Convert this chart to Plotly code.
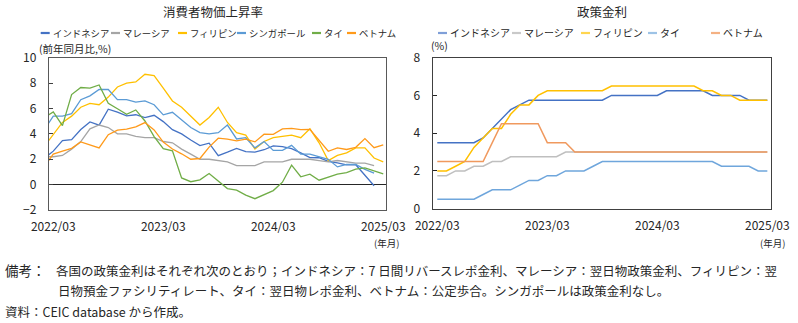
import plotly.graph_objects as go

# ---------------- data ----------------
# CPI months: 2022/02 .. 2025/03 (the 2022/02 point is clipped by the axis)
cpi_months = [f"{y}/{m:02d}" for y in range(2022, 2026) for m in range(1, 13)]
cpi_months = cpi_months[cpi_months.index("2022/02"):cpi_months.index("2025/03") + 1]

cpi_indonesia = [2.06, 2.64, 3.47, 3.55, 4.35, 4.94, 4.69, 5.95, 5.71, 5.42, 5.51,
                 5.28, 5.47, 4.97, 4.33, 4.00, 3.52, 3.08, 3.27, 2.28, 2.56, 2.86, 2.61,
                 2.57, 2.75, 3.05, 3.00, 2.84, 2.51, 2.13, 2.12, 1.84, 1.71, 1.55, 1.57,
                 0.76, -0.09, None]
cpi_malaysia = [2.2, 2.2, 2.3, 2.8, 3.4, 4.4, 4.7, 4.5, 4.0, 4.0, 3.8,
                3.7, 3.7, 3.4, 3.3, 2.8, 2.4, 2.0, 2.0, 1.9, 1.8, 1.5, 1.5,
                1.5, 1.8, 1.8, 1.8, 2.0, 2.0, 2.0, 1.9, 1.8, 1.9, 1.8, 1.7,
                1.7, 1.5, None]
cpi_philippines = [3.0, 4.0, 4.9, 5.4, 6.1, 6.4, 6.3, 6.9, 7.7, 8.0, 8.1,
                   8.7, 8.6, 7.6, 6.6, 6.1, 5.4, 4.7, 5.3, 6.1, 4.9, 4.1, 3.9,
                   2.8, 3.4, 3.7, 3.8, 3.9, 3.7, 4.4, 3.3, 1.9, 2.3, 2.5, 2.9,
                   2.9, 2.1, 1.8]
cpi_singapore = [4.3, 5.4, 5.4, 5.6, 6.7, 7.0, 7.5, 7.5, 6.7, 6.7, 6.5,
                 6.6, 6.3, 5.5, 5.7, 5.1, 4.5, 4.1, 4.0, 4.1, 4.7, 3.6, 3.7,
                 2.9, 3.4, 2.7, 2.7, 3.1, 2.4, 2.4, 2.2, 2.0, 1.4, 1.6, 1.6,
                 1.2, 0.9, None]
cpi_thailand = [5.28, 5.73, 4.65, 7.10, 7.66, 7.61, 7.86, 6.41, 5.98, 5.55, 5.89,
                5.02, 3.79, 2.83, 2.67, 0.53, 0.23, 0.38, 0.88, 0.30, -0.31, -0.44, -0.83,
                -1.11, -0.77, -0.47, 0.19, 1.54, 0.62, 0.83, 0.35, 0.61, 0.83, 0.95, 1.23,
                1.32, 1.08, 0.84]
cpi_vietnam = [1.42, 2.41, 2.64, 2.86, 3.37, 3.14, 2.89, 3.94, 4.30, 4.37, 4.55,
               4.89, 4.31, 3.35, 2.81, 2.43, 2.00, 2.06, 2.96, 3.66, 3.59, 3.45, 3.58,
               3.37, 3.98, 3.97, 4.40, 4.44, 4.34, 4.36, 3.45, 2.63, 2.89, 2.77, 2.94,
               3.63, 2.91, 3.13]

# Policy rate months: 2022/03 .. 2025/03
rate_months = cpi_months[1:]
rate_indonesia = [3.5] * 5 + [3.75, 4.25, 4.75, 5.25, 5.5] + [5.75] * 9 + [6.0] * 6 + [6.25] * 5 + [6.0] * 4 + [5.75] * 3
rate_malaysia = [1.75] * 2 + [2.0] * 2 + [2.25] * 2 + [2.5] * 2 + [2.75] * 6 + [3.0] * 23
rate_philippines = [2.0, 2.0, 2.25, 2.5, 3.25, 3.75, 4.25, 4.25, 5.0, 5.5, 5.5, 6.0] + [6.25] * 7 + [6.5] * 10 + [6.25] * 2 + [6.0] * 2 + [5.75] * 4
rate_thailand = [0.5] * 5 + [0.75] + [1.0] * 3 + [1.25] + [1.5] * 2 + [1.75] * 2 + [2.0] * 3 + [2.25] + [2.5] * 13 + [2.25] * 4 + [2.0] * 2
rate_vietnam = [2.5] * 6 + [3.5] + [4.5] * 5 + [3.5] * 3 + [3.0] * 22

x_tick_labels = ["2022/03", "2023/03", "2024/03", "2025/03"]

# ---------------- helpers ----------------
W, H = 798, 323
FONT = "Noto Sans CJK JP"
TXT = "#262626"


def px(p):
    return p / W


def py(p):
    return 1 - p / H


def month_pos(labels):
    # category centre: month index relative to 2022/03, plus half a month
    base = cpi_months.index("2022/03")
    return [cpi_months.index(m) - base + 0.5 for m in labels]


cpi_x = month_pos(cpi_months)
rate_x = month_pos(rate_months)
label_pos = month_pos(x_tick_labels)
boundary_ticks = [p - 0.5 for p in label_pos[1:]]

fig = go.Figure()

cpi_series = [
    ("インドネシア", cpi_indonesia, "#4472C4"),
    ("マレーシア", cpi_malaysia, "#A5A5A5"),
    ("フィリピン", cpi_philippines, "#FFC000"),
    ("シンガポール", cpi_singapore, "#5B9BD5"),
    ("タイ", cpi_thailand, "#70AD47"),
    ("ベトナム", cpi_vietnam, "#FF9A1A"),
]
for name, vals, col in cpi_series:
    fig.add_trace(go.Scatter(x=cpi_x, y=vals, mode="lines", name=name,
                             line=dict(color=col, width=1.3), xaxis="x", yaxis="y",
                             showlegend=False, cliponaxis=True))

rate_series = [
    ("インドネシア", rate_indonesia, "#4472C4", "#7F9FD8"),
    ("マレーシア", rate_malaysia, "#BFBFBF", "#C9C9C9"),
    ("フィリピン", rate_philippines, "#FFC000", "#FFD54F"),
    ("タイ", rate_thailand, "#6FA6DC", "#9DC3E6"),
    ("ベトナム", rate_vietnam, "#F0995E", "#F4B183"),
]
for name, vals, col, _ in rate_series:
    fig.add_trace(go.Scatter(x=rate_x, y=vals, mode="lines", name=name,
                             line=dict(color=col, width=1.5), xaxis="x2", yaxis="y2",
                             showlegend=False))

L_DOM_X = [px(48.7), px(386)]
L_DOM_Y = [py(210), py(57.8)]
R_DOM_X = [px(432.7), px(771)]
R_DOM_Y = [py(208.7), py(57.7)]
L_RANGE = [0, 36.8]
R_RANGE = [0, 36.9]

axis_common = dict(showgrid=False, showline=True, mirror=True, linecolor="#595959",
                   linewidth=1, automargin=False,
                   tickfont=dict(size=12, color=TXT, family=FONT))
right_axis = {**axis_common, "linecolor": "#404040", "linewidth": 1.3}

fig.update_layout(
    width=W, height=H,
    margin=dict(l=0, r=0, t=0, b=0, pad=0),
    paper_bgcolor="white", plot_bgcolor="white",
    font=dict(family=FONT, color=TXT),
    xaxis=dict(domain=L_DOM_X, range=L_RANGE, anchor="y", tickvals=label_pos,
               ticktext=x_tick_labels, ticks="", zeroline=False,
               ticklabelstandoff=6, **axis_common),
    yaxis=dict(domain=L_DOM_Y, range=[-2, 10], anchor="x", dtick=2, tick0=0,
               ticks="inside", ticklen=4, tickcolor="#404040",
               zeroline=True, zerolinecolor="#262626", zerolinewidth=1.3,
               ticklabelstandoff=9, **axis_common),
    xaxis3=dict(domain=L_DOM_X, range=L_RANGE, overlaying="x", anchor="free",
                position=L_DOM_Y[0] + (L_DOM_Y[1] - L_DOM_Y[0]) * (2 / 12),
                tickvals=boundary_ticks, ticks="inside", ticklen=4, tickcolor="#7F7F7F",
                tickwidth=1.5, showticklabels=False, showline=False, showgrid=False,
                zeroline=False, automargin=False),
    xaxis2=dict(domain=R_DOM_X, range=R_RANGE, anchor="y2", tickvals=label_pos,
                ticktext=x_tick_labels, ticks="", zeroline=False,
                ticklabelstandoff=6, **right_axis),
    yaxis2=dict(domain=R_DOM_Y, range=[0, 8], anchor="x2", dtick=2, tick0=0,
                ticks="inside", ticklen=4, tickcolor="#262626", zeroline=False,
                ticklabelstandoff=9, **right_axis),
    xaxis4=dict(domain=R_DOM_X, range=R_RANGE, overlaying="x2", anchor="y2",
                tickvals=boundary_ticks, ticks="inside", ticklen=4, tickcolor="#404040",
                tickwidth=1.3, showticklabels=False, showline=False, showgrid=False,
                zeroline=False, automargin=False),
)

ann = []
shapes = []


def text(x, y, s, size, anchor="center", color=TXT):
    ann.append(dict(x=px(x), y=py(y), xref="paper", yref="paper", text=s,
                    showarrow=False, xanchor=anchor, yanchor="middle",
                    font=dict(size=size, color=color, family=FONT)))


# titles
text(213, 12, "消費者物価上昇率", 12.5)
text(602, 12, "政策金利", 12.5)
# unit labels
text(37, 49, "(前年同月比,%)", 10.5, "left")
text(429, 46, "(%)", 10.5, "left")
text(386, 243, "(年月)", 9.5)
text(772, 243, "(年月)", 9.5)

# legends (swatch + label)
left_leg_x = [40.7, 111, 178, 237, 312, 347]
for (name, _, col), x0 in zip(cpi_series, left_leg_x):
    shapes.append(dict(type="line", xref="paper", yref="paper", x0=px(x0), x1=px(x0 + 9),
                       y0=py(33), y1=py(33), line=dict(color=col, width=2.2)))
    text(x0 + 10, 33, name, 9.4, "left")
right_leg_x = [438, 512, 581, 648, 711]
for (name, _, _, lcol), x0 in zip(rate_series, right_leg_x):
    shapes.append(dict(type="line", xref="paper", yref="paper", x0=px(x0), x1=px(x0 + 9),
                       y0=py(33), y1=py(33), line=dict(color=lcol, width=2.2)))
    text(x0 + 10, 33, name, 10, "left")

# footnotes
FN = 12.5
text(3, 270, "備考：", 13.5, "left")
text(54, 270, "各国の政策金利はそれぞれ次のとおり；インドネシア：7 日間リバースレポ金利、マレーシア：翌日物政策金利、フィリピン：翌", FN, "left")
text(56, 290, "日物預金ファシリティレート、タイ：翌日物レポ金利、ベトナム：公定歩合。シンガポールは政策金利なし。", FN, "left")
text(3, 311, "資料：CEIC database から作成。", FN, "left")

fig.update_layout(annotations=ann, shapes=shapes)

fig.write_html("out.html")
